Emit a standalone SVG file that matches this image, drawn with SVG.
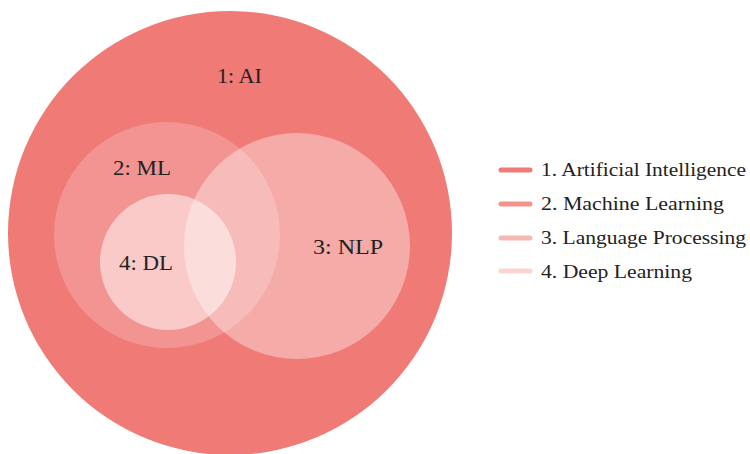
<svg xmlns="http://www.w3.org/2000/svg" width="750" height="454" viewBox="0 0 750 454">
<style>
.lbl{font-family:"Liberation Serif","DejaVu Serif",serif;font-size:21px;fill:#222}
.leg{font-family:"Liberation Serif","DejaVu Serif",serif;font-size:18.5px;fill:#222}
.ll{stroke-width:5;stroke-linecap:round}
</style>
<rect width="750" height="454" fill="#ffffff"/>
<g id="ai"><circle cx="230" cy="233" r="222" fill="#ef7a76"/><text class="lbl" x="217" y="83" textLength="45" lengthAdjust="spacingAndGlyphs">1: AI</text></g>
<g id="ml"><circle cx="167" cy="235" r="113" fill="#ffffff" fill-opacity="0.2"/><text class="lbl" x="113" y="175" textLength="58" lengthAdjust="spacingAndGlyphs">2: ML</text></g>
<g id="nlp"><circle cx="297" cy="246" r="113" fill="#ffffff" fill-opacity="0.37"/><text class="lbl" x="313" y="254" textLength="70" lengthAdjust="spacingAndGlyphs">3: NLP</text></g>
<g id="dl"><circle cx="168" cy="262" r="68" fill="#ffffff" fill-opacity="0.5"/><text class="lbl" x="119" y="270" textLength="54" lengthAdjust="spacingAndGlyphs">4: DL</text></g>
<g id="legend">
<line class="ll" x1="501" y1="170" x2="530" y2="170" stroke="#ef7a76"/>
<text class="leg" x="541" y="176" textLength="205" lengthAdjust="spacingAndGlyphs">1. Artificial Intelligence</text>
<line class="ll" x1="501" y1="204" x2="530" y2="204" stroke="#f2948d"/>
<text class="leg" x="541" y="210" textLength="183" lengthAdjust="spacingAndGlyphs">2. Machine Learning</text>
<line class="ll" x1="501" y1="238" x2="530" y2="238" stroke="#f5b8b3"/>
<text class="leg" x="541" y="244" textLength="205" lengthAdjust="spacingAndGlyphs">3. Language Processing</text>
<line class="ll" x1="501" y1="271" x2="530" y2="271" stroke="#f9d5d0"/>
<text class="leg" x="541" y="278" textLength="151" lengthAdjust="spacingAndGlyphs">4. Deep Learning</text>
</g>
</svg>
